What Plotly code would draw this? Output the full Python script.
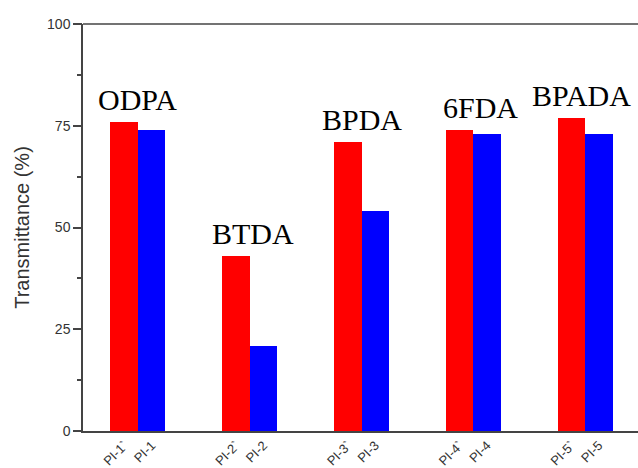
import plotly.graph_objects as go

# Dianhydride families and the two films measured for each
groups = ["ODPA", "BTDA", "BPDA", "6FDA", "BPADA"]
labels_primed = ["PI-1`", "PI-2`", "PI-3`", "PI-4`", "PI-5`"]
labels_plain = ["PI-1", "PI-2", "PI-3", "PI-4", "PI-5"]
trans_primed = [76, 43, 71, 74, 77]
trans_plain = [74, 21, 54, 73, 73]

bar_w = 0.246
idx = list(range(len(groups)))
x_red = [i - bar_w / 2 for i in idx]
x_blue = [i + bar_w / 2 for i in idx]

fig = go.Figure()
fig.add_trace(go.Bar(x=x_red, y=trans_primed, width=bar_w,
                     marker=dict(color="#FF0000", line=dict(width=0)),
                     showlegend=False))
fig.add_trace(go.Bar(x=x_blue, y=trans_plain, width=bar_w,
                     marker=dict(color="#0000FF", line=dict(width=0)),
                     showlegend=False))
# invisible trace that carries the minor-tick axis
fig.add_trace(go.Scatter(x=[x_red[0]], y=[0], yaxis="y2", mode="markers",
                         marker=dict(opacity=0), hoverinfo="skip",
                         showlegend=False))

tickvals = []
ticktext = []
for i in idx:
    tickvals += [x_red[i], x_blue[i]]
    ticktext += [labels_primed[i], labels_plain[i]]

# small horizontal nudges for the family names (pixels); the last one is
# pulled in so it stays inside the page
name_dx = [0, 3, 0, 7, -4]
for i, name in enumerate(groups):
    fig.add_annotation(x=i, y=max(trans_primed[i], trans_plain[i]),
                       text=name, showarrow=False, yanchor="bottom",
                       xanchor="center", yshift=5, xshift=name_dx[i],
                       borderpad=0,
                       font=dict(family="Liberation Serif", size=30, color="black"))

axis_col = "#444444"
# top frame line (no right-hand frame)
fig.add_shape(type="line", xref="paper", yref="paper", x0=0, x1=1, y0=1, y1=1,
              line=dict(color=axis_col, width=1.5))

fig.update_layout(
    width=638, height=468,
    margin=dict(l=83, r=0, t=24, b=37),
    paper_bgcolor="white", plot_bgcolor="white",
    bargap=0,
    font=dict(family="Liberation Sans", color="#333333"),
    xaxis=dict(range=[-0.492, 4.474], tickvals=tickvals, ticktext=ticktext,
               tickangle=-45, ticks="", showgrid=False, zeroline=False,
               showline=True, linecolor=axis_col, linewidth=1.5,
               automargin=False,
               tickfont=dict(size=13, color="#333333")),
    yaxis=dict(range=[0, 100], tick0=0, dtick=25,
               ticks="outside", ticklen=8, tickwidth=1.5, tickcolor=axis_col,
               showgrid=False, zeroline=False,
               showline=True, linecolor=axis_col, linewidth=1.5,
               automargin=False,
               tickfont=dict(size=14, color="#333333"),
               title=dict(text="Transmittance (%)", standoff=12,
                          font=dict(size=20, color="#333333"))),
    yaxis2=dict(range=[0, 100], tick0=0, dtick=12.5, overlaying="y", side="left",
                ticks="outside", ticklen=5, tickwidth=1.5, tickcolor=axis_col,
                showticklabels=False, showgrid=False, zeroline=False,
                showline=False, automargin=False),
)

fig.write_html("out.html")
